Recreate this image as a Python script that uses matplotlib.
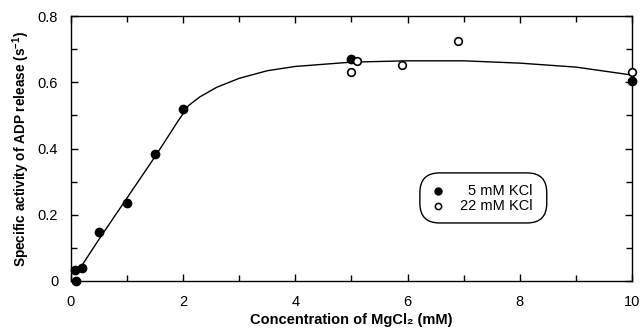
import matplotlib
matplotlib.use("Agg")
import matplotlib.pyplot as plt
from matplotlib.patches import FancyBboxPatch

plt.rcParams['font.family'] = ['Liberation Sans', 'DejaVu Sans']
plt.rcParams['mathtext.default'] = 'regular'

# Data
kcl5_x = [0.07, 0.1, 0.2, 0.5, 1.0, 1.5, 2.0, 5.0, 10.0]
kcl5_y = [0.033, 0.0, 0.04, 0.148, 0.237, 0.385, 0.52, 0.67, 0.605]
kcl22_x = [5.0, 5.1, 5.9, 6.9, 10.0]
kcl22_y = [0.63, 0.665, 0.652, 0.725, 0.63]
fit_x = [0.2, 0.5, 1.0, 1.5, 1.9, 2.1, 2.3, 2.6, 3.0, 3.5, 4.0, 5.0, 6.0, 7.0, 8.0, 9.0, 10.0]
fit_y = [0.047, 0.125, 0.25, 0.375, 0.48, 0.53, 0.556, 0.585, 0.612, 0.635, 0.648, 0.661, 0.665, 0.665, 0.658, 0.646, 0.622]
xticks = [0, 2, 4, 6, 8, 10]
yticks = [0, 0.2, 0.4, 0.6, 0.8]
yticklabels = ['0', '0.2', '0.4', '0.6', '0.8']
legend_labels = ['5 mM KCl', '22 mM KCl']

fig = plt.figure(figsize=(6.43, 3.29), dpi=100)
ax = fig.add_axes([0.110, 0.146, 0.873, 0.805])

ax.plot(fit_x, fit_y, color='black', lw=1.0)
ax.plot(kcl5_x, kcl5_y, 'o', color='black', ms=6, clip_on=False, zorder=3)
ax.plot(kcl22_x, kcl22_y, 'o', mfc='white', mec='black', mew=1.2, ms=5.5, clip_on=False, zorder=4)

ax.set_xlim(0, 10)
ax.set_ylim(0, 0.8)
ax.set_xticks(xticks)
ax.set_xticks([1, 3, 5, 7, 9], minor=True)
ax.set_yticks(yticks)
ax.set_yticklabels(yticklabels)
ax.set_yticks([0.1, 0.3, 0.5, 0.7], minor=True)
ax.tick_params(which='both', direction='in', top=True, right=True, labelsize=10.5)
ax.tick_params(axis='x', which='major', pad=10)
ax.tick_params(axis='y', which='major', pad=9)
ax.tick_params(which='major', length=5, width=1)
ax.tick_params(which='minor', length=4, width=1)
for s in ax.spines.values():
    s.set_linewidth(1.0)

ax.set_xlabel('Concentration of MgCl\u2082 (mM)', fontsize=10.5, fontweight='bold', labelpad=3)
ax.set_ylabel('Specific activity of ADP release (s$^{-1}$)', fontsize=9.8, fontweight='bold', labelpad=4)

# legend box (axes coordinates)
box = FancyBboxPatch((0.622, 0.219), 0.226, 0.189, boxstyle='round,pad=0.0,rounding_size=0.035',
                     transform=ax.transAxes, fc='white', ec='black', lw=1.0, zorder=5,
                     mutation_aspect=561/265)
ax.add_patch(box)
ax.plot([0.655], [0.340], 'o', color='black', ms=5, transform=ax.transAxes, zorder=6)
ax.plot([0.655], [0.283], 'o', mfc='white', mec='black', mew=1.1, ms=4.5, transform=ax.transAxes, zorder=6)
ax.text(0.822, 0.340, legend_labels[0], transform=ax.transAxes, ha='right', va='center', fontsize=10.5, zorder=6)
ax.text(0.822, 0.283, legend_labels[1], transform=ax.transAxes, ha='right', va='center', fontsize=10.5, zorder=6)

fig.savefig('out.png', dpi=100)
